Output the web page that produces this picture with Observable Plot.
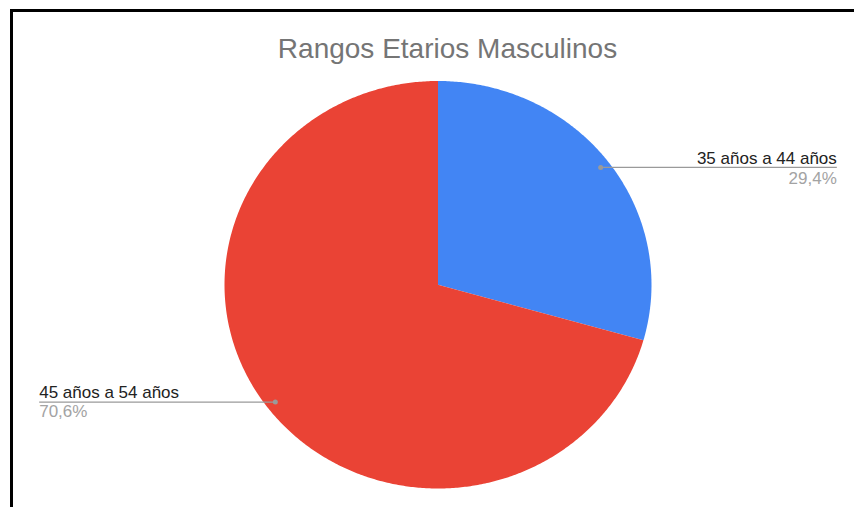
<!DOCTYPE html>
<html>
<head>
<meta charset="utf-8">
<script src="https://cdn.jsdelivr.net/npm/d3@7"></script>
<script src="https://cdn.jsdelivr.net/npm/@observablehq/plot@0.6"></script>
<style>
  html, body { margin: 0; padding: 0; background: #fff; }
  #wrap { position: relative; width: 854px; height: 507px; overflow: hidden; }
  #wrap svg { position: absolute; left: 0; top: 0; }
  #frame { position: absolute; left: 10px; top: 9px; right: -5px; bottom: -5px;
           border-left: 3px solid #000; border-top: 3px solid #000; pointer-events: none; }
</style>
</head>
<body>
<div id="wrap"><div id="frame"></div></div>
<script>
const title = "Rangos Etarios Masculinos";
const categories = ["35 años a 44 años", "45 años a 54 años"];
const values = [29.4, 70.6];
const percentLabels = ["29,4%", "70,6%"];
const colors = ["#4285F4", "#EA4335"];

const total = d3.sum(values);
const wedgePts = [];
const labels = [];
let acc = 0;
categories.forEach((c, i) => {
  const a0 = acc / total * 2 * Math.PI;
  acc += values[i];
  const a1 = acc / total * 2 * Math.PI;
  const n = Math.max(2, Math.ceil((a1 - a0) / (Math.PI / 360)));
  wedgePts.push({c, x: 0, y: 0});
  for (let k = 0; k <= n; k++) {
    const a = a0 + (a1 - a0) * k / n;
    wedgePts.push({c, x: Math.sin(a), y: Math.cos(a)});
  }
  wedgePts.push({c, x: 0, y: 0});
  const mid = (a0 + a1) / 2;
  const side = Math.sin(mid) >= 0 ? 1 : -1;
  labels.push({
    c, pct: percentLabels[i], side,
    mx: 0.955 * Math.sin(mid), my: 0.955 * Math.cos(mid),
    ex: 1.868 * side
  });
});

const right = labels.filter(d => d.side > 0);
const left = labels.filter(d => d.side < 0);

const chart = Plot.plot({
  width: 854,
  height: 507,
  margin: 0,
  x: {domain: [-1, 1], range: [224, 651], axis: null},
  y: {domain: [-1, 1], range: [488, 80.5], axis: null},
  color: {domain: categories, range: colors},
  style: {fontFamily: "Arial, 'Liberation Sans', sans-serif", background: "white"},
  marks: [
    Plot.line(wedgePts, {x: "x", y: "y", z: "c", fill: "c", stroke: "none", curve: "linear"}),
    Plot.link(labels, {x1: "mx", y1: "my", x2: "ex", y2: "my", stroke: "#9a9a9a", strokeWidth: 1.3}),
    Plot.dot(labels, {x: "mx", y: "my", r: 2.5, fill: "#9a9a9a", stroke: "none"}),
    Plot.text(right, {x: "ex", y: "my", text: "c", textAnchor: "end", lineAnchor: "bottom", dy: -3, fontSize: 17, fill: "#222"}),
    Plot.text(right, {x: "ex", y: "my", text: "pct", textAnchor: "end", lineAnchor: "top", dy: 4, fontSize: 17, fill: "#a3a3a3"}),
    Plot.text(left, {x: "ex", y: "my", text: "c", textAnchor: "start", lineAnchor: "bottom", dy: -4, fontSize: 17, fill: "#222"}),
    Plot.text(left, {x: "ex", y: "my", text: "pct", textAnchor: "start", lineAnchor: "top", dy: 3, fontSize: 17, fill: "#a3a3a3"}),
    Plot.text([title], {frameAnchor: "top", text: d => d, dx: 20, dy: 49, lineAnchor: "middle", fontSize: 28, fill: "#757575"})
  ]
});
document.getElementById("wrap").insertBefore(chart, document.getElementById("frame"));
</script>
</body>
</html>
